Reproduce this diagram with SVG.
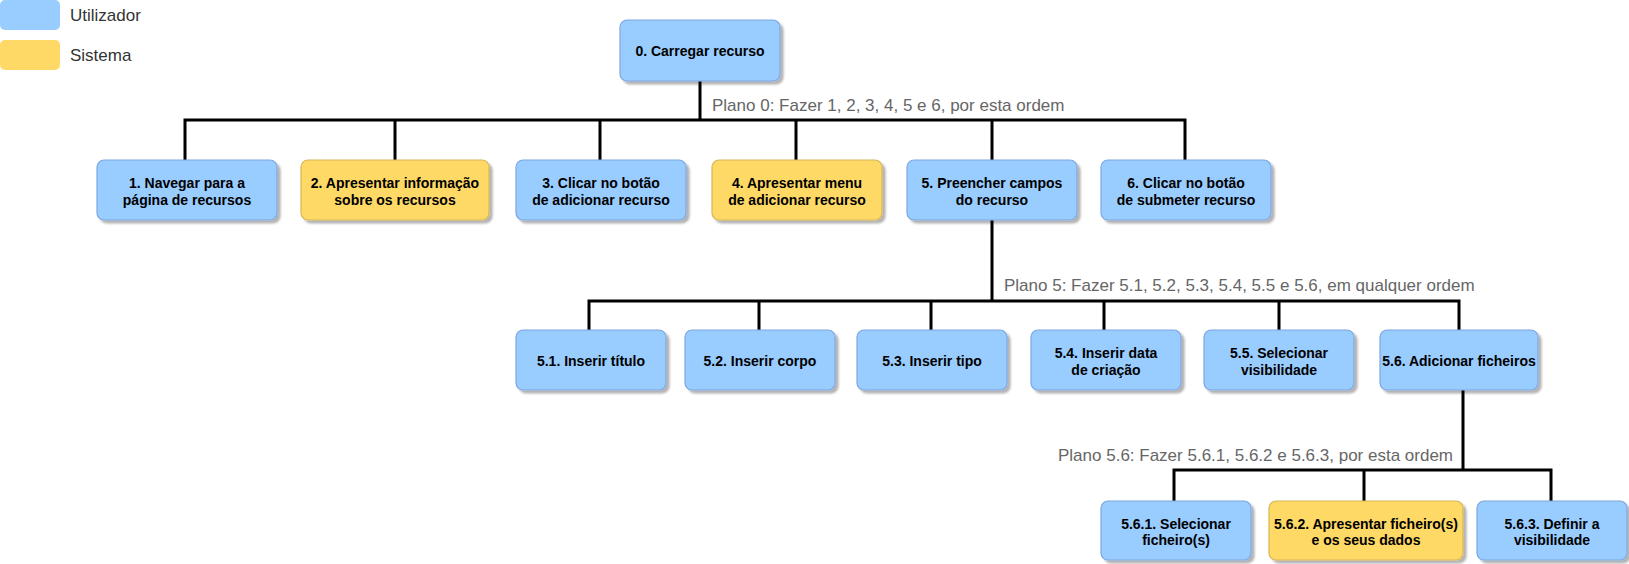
<svg xmlns="http://www.w3.org/2000/svg" width="1629" height="564" viewBox="0 0 1629 564">
<style>
.u{fill:#99CCFF;stroke:#7EA6E0;stroke-width:1.2}
.s{fill:#FFD966;stroke:#D6B656;stroke-width:1.2}
.sh{filter:url(#shadow)}
.t{font-family:"Liberation Sans",Arial,sans-serif;font-size:14px;font-weight:bold;fill:#000;text-anchor:middle}
.p{font-family:"Liberation Sans",Arial,sans-serif;font-size:17px;fill:#666}
.l{font-family:"Liberation Sans",Arial,sans-serif;font-size:17px;fill:#333}
.c{fill:none;stroke:#000;stroke-width:3;stroke-linecap:square}
</style>
<defs>
<filter id="shadow" x="-10%" y="-10%" width="130%" height="140%">
<feDropShadow dx="3" dy="3" stdDeviation="1" flood-color="#000" flood-opacity="0.3"/>
</filter>
</defs>
<rect width="1629" height="564" fill="#fff"/>
<g id="legend">
<rect x="0" y="0" width="60" height="30" rx="5" fill="#99CCFF"/>
<text class="l" x="70" y="21">Utilizador</text>
<rect x="0" y="40" width="60" height="30" rx="5" fill="#FFD966"/>
<text class="l" x="70" y="61">Sistema</text>
</g>
<g id="connectors">
<path class="c" d="M700 81V120M185 160V120H1185V160M395 120V160M600 120V160M796 120V160M992 120V160"/>
<path class="c" d="M992 220V301M589 330V301H1459V330M759 301V330M931 301V330M1104 301V330M1279 301V330"/>
<path class="c" d="M1463 390V470M1174 501V470H1551V501M1364 470V501"/>
</g>
<g id="plans">
<text class="p" x="712" y="111">Plano 0: Fazer 1, 2, 3, 4, 5 e 6, por esta ordem</text>
<text class="p" x="1004" y="291">Plano 5: Fazer 5.1, 5.2, 5.3, 5.4, 5.5 e 5.6, em qualquer ordem</text>
<text class="p" x="1058" y="461">Plano 5.6: Fazer 5.6.1, 5.6.2 e 5.6.3, por esta ordem</text>
</g>
<g id="n0"><rect class="u sh" x="620" y="20" width="160" height="61" rx="7"/><text class="t" x="700" y="55.5">0. Carregar recurso</text></g>
<g id="n1"><rect class="u sh" x="97" y="160" width="180" height="60" rx="7"/><text class="t" x="187" y="188">1. Navegar para a</text><text class="t" x="187" y="204.5">página de recursos</text></g>
<g id="n2"><rect class="s sh" x="301" y="160" width="188" height="60" rx="7"/><text class="t" x="395" y="188">2. Apresentar informação</text><text class="t" x="395" y="204.5">sobre os recursos</text></g>
<g id="n3"><rect class="u sh" x="516" y="160" width="170" height="60" rx="7"/><text class="t" x="601" y="188">3. Clicar no botão</text><text class="t" x="601" y="204.5">de adicionar recurso</text></g>
<g id="n4"><rect class="s sh" x="712" y="160" width="170" height="60" rx="7"/><text class="t" x="797" y="188">4. Apresentar menu</text><text class="t" x="797" y="204.5">de adicionar recurso</text></g>
<g id="n5"><rect class="u sh" x="907" y="160" width="170" height="60" rx="7"/><text class="t" x="992" y="188">5. Preencher campos</text><text class="t" x="992" y="204.5">do recurso</text></g>
<g id="n6"><rect class="u sh" x="1101" y="160" width="170" height="60" rx="7"/><text class="t" x="1186" y="188">6. Clicar no botão</text><text class="t" x="1186" y="204.5">de submeter recurso</text></g>
<g id="n5_1"><rect class="u sh" x="516" y="330" width="150" height="60" rx="7"/><text class="t" x="591" y="365.5">5.1. Inserir título</text></g>
<g id="n5_2"><rect class="u sh" x="685" y="330" width="150" height="60" rx="7"/><text class="t" x="760" y="365.5">5.2. Inserir corpo</text></g>
<g id="n5_3"><rect class="u sh" x="857" y="330" width="150" height="60" rx="7"/><text class="t" x="932" y="365.5">5.3. Inserir tipo</text></g>
<g id="n5_4"><rect class="u sh" x="1031" y="330" width="150" height="60" rx="7"/><text class="t" x="1106" y="358">5.4. Inserir data</text><text class="t" x="1106" y="374.5">de criação</text></g>
<g id="n5_5"><rect class="u sh" x="1204" y="330" width="150" height="60" rx="7"/><text class="t" x="1279" y="358">5.5. Selecionar</text><text class="t" x="1279" y="374.5">visibilidade</text></g>
<g id="n5_6"><rect class="u sh" x="1380" y="330" width="158" height="60" rx="7"/><text class="t" x="1459" y="365.5">5.6. Adicionar ficheiros</text></g>
<g id="n5_6_1"><rect class="u sh" x="1101" y="501" width="150" height="59" rx="7"/><text class="t" x="1176" y="528.5">5.6.1. Selecionar</text><text class="t" x="1176" y="545">ficheiro(s)</text></g>
<g id="n5_6_2"><rect class="s sh" x="1269" y="501" width="194" height="59" rx="7"/><text class="t" x="1366" y="528.5">5.6.2. Apresentar ficheiro(s)</text><text class="t" x="1366" y="545">e os seus dados</text></g>
<g id="n5_6_3"><rect class="u sh" x="1477" y="501" width="150" height="59" rx="7"/><text class="t" x="1552" y="528.5">5.6.3. Definir a</text><text class="t" x="1552" y="545">visibilidade</text></g>
</svg>
